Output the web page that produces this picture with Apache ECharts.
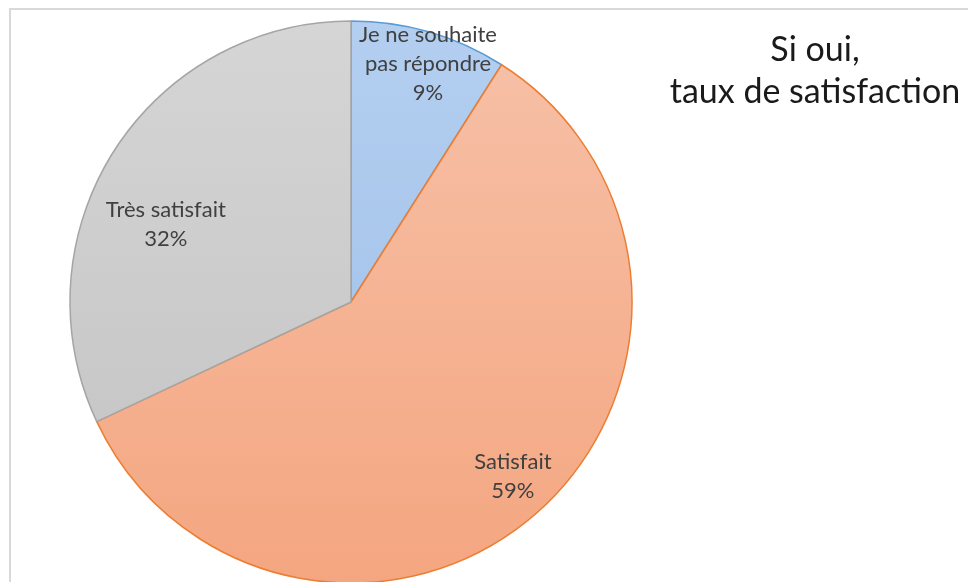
<!DOCTYPE html>
<html>
<head>
<meta charset="utf-8">
<script src="https://cdn.jsdelivr.net/npm/echarts@6/dist/echarts.min.js"></script>
<style>
  html, body { margin: 0; padding: 0; background: #fff; }
  #chart { width: 968px; height: 582px; }
</style>
</head>
<body>
<div id="chart"></div>
<script>
var categories = ['Je ne souhaite\npas répondre', 'Satisfait', 'Très satisfait']
var values = [9, 59, 32]
var fillTop = ['#b4cff0', '#f7c2aa', '#d6d6d6']
var fillBottom = ['#9dbfe8', '#f4a680', '#c2c2c2']
var borders = ['#5b9bd5', '#ed7d31', '#a5a5a5']
// label nudges from the default inside spot
var labelOffsets = [[37, -100], [67, 67], [-64, -1]]

function grad (i) {
  return {
    type: 'linear',
    x: 0, y: 0, x2: 0, y2: 582,
    global: true,
    colorStops: [
      { offset: 0, color: fillTop[i] },
      { offset: 1, color: fillBottom[i] }
    ]
  }
}

var data = []
for (var i = 0; i < values.length; i++) {
  data.push({
    name: categories[i],
    value: values[i],
    itemStyle: { color: grad(i), borderColor: borders[i], borderWidth: 1.5 },
    label: { offset: labelOffsets[i] }
  })
}

var option = {
  animation: false,
  backgroundColor: '#fff',
  graphic: [{
    type: 'rect',
    shape: { x: 10, y: 9, width: 1000, height: 620 },
    style: { fill: 'none', stroke: '#d9d9d9', lineWidth: 2 },
    z: 0
  }],
  title: {
    text: 'Si oui,\ntaux de satisfaction',
    left: 810,
    top: 24,
    textAlign: 'center',
    textStyle: {
      fontFamily: 'Lato',
      fontSize: 34,
      fontWeight: 'normal',
      color: '#1a1a1a',
      lineHeight: 42,
      align: 'center'
    }
  },
  series: [{
    type: 'pie',
    center: [351, 302],
    radius: 281,
    startAngle: 90,
    clockwise: true,
    data: data,
    label: {
      position: 'inside',
      formatter: '{b}\n{d}%',
      fontFamily: 'Lato',
      fontSize: 22,
      lineHeight: 29,
      color: '#404040',
      align: 'center'
    },
    labelLine: { show: false },
    emphasis: { disabled: true }
  }]
}

var myChart = echarts.init(document.getElementById('chart'))
myChart.setOption(option)
</script>
</body>
</html>
